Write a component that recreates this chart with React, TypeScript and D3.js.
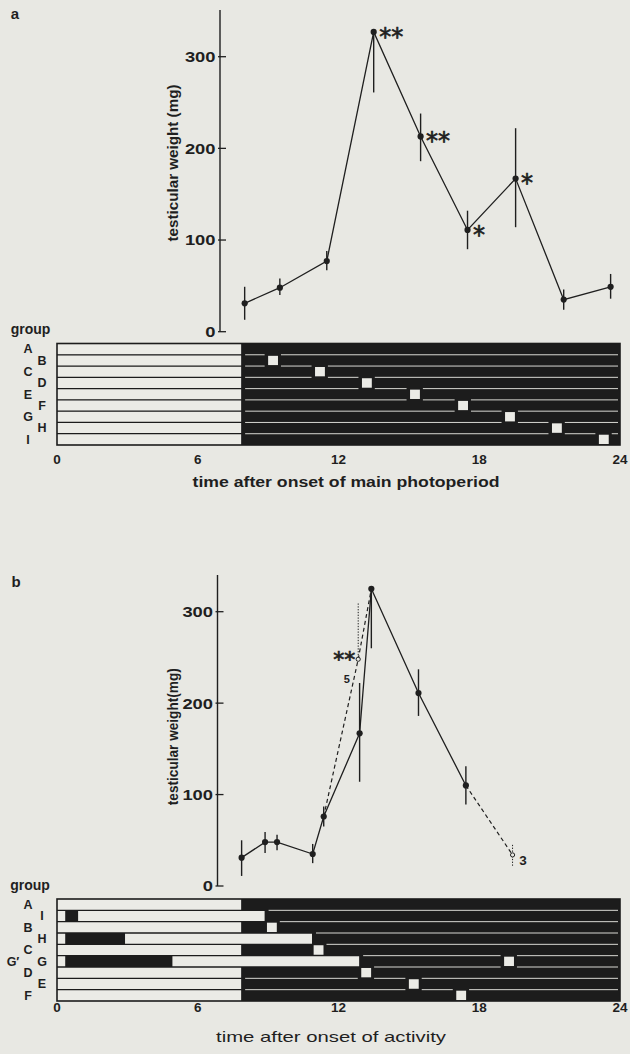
import React from 'react';
import * as d3 from 'd3';

// ---------- shared ----------
const HOUR_TICKS = [0, 6, 12, 18, 24];
const WEIGHT_TICKS = [0, 100, 200, 300];
const PULSE_LEN = 0.42;

// ---------- panel a : testicular weight vs time after onset of main photoperiod ----------
const A_HOURS = [8.0, 9.5, 11.5, 13.5, 15.5, 17.5, 19.55, 21.6, 23.6];
const A_MEAN = [31, 48, 77, 327, 213, 111, 167, 35, 49];
const A_SE_HI = [49, 58, 88, 327, 238, 132, 222, 46, 63];
const A_SE_LO = [13, 40, 67, 261, 186, 90, 114, 24, 36];
const A_STARS = ['', '', '', '**', '**', '*', '*', '', ''];

const A_GROUPS = ['A', 'B', 'C', 'D', 'E', 'F', 'G', 'H', 'I'];
const A_LIGHT = [
  [[0, 7.85]], [[0, 7.85]], [[0, 7.85]], [[0, 7.85]], [[0, 7.85]],
  [[0, 7.85]], [[0, 7.85]], [[0, 7.85]], [[0, 7.85]],
];
const A_PULSE = [null, 9.0, 11.0, 13.0, 15.05, 17.1, 19.1, 21.1, 23.1];

// ---------- panel b : testicular weight vs time after onset of activity ----------
const B_HOURS = [7.87, 8.87, 9.38, 10.9, 11.37, 12.9, 13.4, 15.41, 17.43];
const B_MEAN = [31, 48, 48, 35, 76, 167, 325, 211, 110];
const B_SE_HI = [50, 59, 56, 46, 87, 222, 325, 237, 131];
const B_SE_LO = [11, 36, 39, 25, 65, 114, 260, 186, 89];

const B_OPEN_HOURS = [12.84, 19.42];
const B_OPEN_MEAN = [248, 34];
const B_OPEN_SE_HI = [309, 45];
const B_OPEN_SE_LO = [248, 21];
const B_OPEN_N = ['5', '3'];
const B_OPEN_STARS = ['**', ''];
// dashed links: from solid point index, through open point, to solid point index (or none)
const B_DASH_FROM = [4, 8];
const B_DASH_TO = [6, null];

const B_GROUPS = ['A', 'I', 'B', 'H', 'C', 'G', 'D', 'E', 'F'];
const B_LIGHT = [
  [[0, 7.85]],
  [[0, 0.35], [0.9, 8.85]],
  [[0, 7.85]],
  [[0, 0.35], [2.9, 10.87]],
  [[0, 7.85]],
  [[0, 0.35], [4.92, 12.88]],
  [[0, 7.85]],
  [[0, 7.85]],
  [[0, 7.85]],
];
const B_PULSE = [null, null, 8.95, null, 10.94, 19.06, 12.97, 15.0, 17.02];

// ---------- style ----------
const BG = '#e8e8e3';
const INK = '#1f1f1f';
const DARK = '#1c1c1c';
const LIGHT = '#ebebe6';
const FONT = "'Liberation Sans', Arial, Helvetica, sans-serif";

const x = d3.scaleLinear().domain([0, 24]).range([57, 620]);

function Stars({ cx, cy, text, anchor, fs = 24 }: { cx: number; cy: number; text: string; anchor: string; fs?: number }) {
  if (!text) return null;
  return (
    <text
      x={cx}
      y={cy + 0.53 * fs}
      fontSize={fs}
      fontFamily="'DejaVu Sans', sans-serif"
      fill={INK}
      stroke={INK}
      strokeWidth={0.7}
      textAnchor={anchor}
    >
      {text}
    </text>
  );
}

function YAxis({ y, axisX, top, title, titleY, titleLen }: any) {
  return (
    <g>
      <line x1={axisX} x2={axisX} y1={top} y2={y(0)} stroke={INK} strokeWidth={1.4} />
      {WEIGHT_TICKS.map((t) => (
        <g key={t}>
          <line x1={axisX - 2} x2={axisX + 6} y1={y(t)} y2={y(t)} stroke={INK} strokeWidth={1.3} />
          <text
            x={axisX - 4.5}
            y={y(t) + 5.4}
            fontSize={15}
            fontWeight="bold"
            textAnchor="end"
            fill={INK}
            textLength={String(t).length * 10.2}
            lengthAdjust="spacingAndGlyphs"
          >
            {t}
          </text>
        </g>
      ))}
      <text
        transform={`translate(178,${titleY}) rotate(-90)`}
        fontSize={14}
        fontWeight="bold"
        textAnchor="middle"
        fill={INK}
        textLength={titleLen}
        lengthAdjust="spacingAndGlyphs"
      >
        {title}
      </text>
    </g>
  );
}

function BarPanel({ groups, light, pulses, top, bottom, tickY, extra }: any) {
  const band = d3.scaleBand<string>().domain(groups).range([top, bottom]);
  const bw = band.bandwidth();
  const n = groups.length;
  const darkStart = (r: number) => Math.max(...light[r].map((s: number[]) => s[1]));
  const whiteLines: any[] = [];
  for (let r = 0; r < n - 1; r++) {
    const yy = band(groups[r + 1])!;
    const s = x(Math.max(darkStart(r), darkStart(r + 1))) + 4;
    const e = x(24) - 2;
    const gaps = [pulses[r], pulses[r + 1]]
      .filter((p: any) => p != null)
      .map((p: number) => [x(p) - 3.5, x(p + PULSE_LEN) + 3])
      .sort((a: number[], b: number[]) => a[0] - b[0]);
    let cur = s;
    gaps.forEach((g: number[]) => {
      if (g[1] <= cur) return;
      if (g[0] > cur) whiteLines.push([cur, g[0], yy]);
      cur = Math.max(cur, g[1]);
    });
    if (cur < e) whiteLines.push([cur, e, yy]);
  }
  return (
    <g>
      <rect x={x(0)} y={top} width={x(24) - x(0)} height={bottom - top} fill={DARK} />
      {groups.map((g: string, r: number) => (
        <g key={g}>
          {light[r].map((s: number[], i: number) => (
            <rect key={i} x={x(s[0])} y={band(g)} width={x(s[1]) - x(s[0])} height={bw} fill={LIGHT} />
          ))}
          {pulses[r] != null && (
            <rect
              x={x(pulses[r])}
              y={band(g)! + 0.9}
              width={x(pulses[r] + PULSE_LEN) - x(pulses[r])}
              height={bw - 1.8}
              fill={LIGHT}
            />
          )}
          <text
            x={r % 2 === 0 ? 28 : 42}
            y={band(g)! + bw / 2 + 4.3}
            fontSize={12.5}
            fontWeight="bold"
            textAnchor="middle"
            fill={INK}
          >
            {g}
          </text>
        </g>
      ))}
      {groups.slice(1).map((g: string) => (
        <line key={g} x1={x(0)} x2={x(24)} y1={band(g)} y2={band(g)} stroke={DARK} strokeWidth={1.3} />
      ))}
      {whiteLines.map((l, i) => (
        <line key={i} x1={l[0]} x2={l[1]} y1={l[2]} y2={l[2]} stroke="#d8d8d3" strokeWidth={1} />
      ))}
      <rect x={x(0)} y={top} width={x(24) - x(0)} height={bottom - top} fill="none" stroke={DARK} strokeWidth={1.6} />
      {extra}
      {HOUR_TICKS.map((t) => (
        <text key={t} x={x(t)} y={tickY + 4.8} fontSize={13.5} fontWeight="bold" textAnchor="middle" fill={INK}>
          {t}
        </text>
      ))}
    </g>
  );
}

export default function App() {
  const yA = d3.scaleLinear().domain([0, 300]).range([331.7, 56.7]);
  const yB = d3.scaleLinear().domain([0, 300]).range([886, 611.7]);

  const lineA = d3.line<number>().x((d, i) => x(A_HOURS[i])).y((d) => yA(d));
  const lineB = d3.line<number>().x((d, i) => x(B_HOURS[i])).y((d) => yB(d));
  const pt = d3.line<[number, number]>().x((d) => x(d[0])).y((d) => yB(d[1]));

  const dashPaths = B_OPEN_HOURS.map((h, i) => {
    const pts: [number, number][] = [[B_HOURS[B_DASH_FROM[i]], B_MEAN[B_DASH_FROM[i]]], [h, B_OPEN_MEAN[i]]];
    const to = B_DASH_TO[i];
    if (to != null) pts.push([B_HOURS[to], B_MEAN[to]]);
    return pt(pts)!;
  });

  return (
    <svg
      width={630}
      height={1054}
      viewBox="0 0 630 1054"
      style={{ position: 'absolute', left: 0, top: 0, background: BG }}
      fontFamily={FONT}
    >
      <rect width={630} height={1054} fill={BG} />

      {/* ---------------- panel a ---------------- */}
      <text x={15} y={19} fontSize={15} fontWeight="bold" textAnchor="middle" fill={INK}>a</text>
      <YAxis y={yA} axisX={220} top={10} title="testicular weight (mg)" titleY={163} titleLen={157} />
      <path d={lineA(A_MEAN)!} fill="none" stroke={INK} strokeWidth={1.3} />
      {A_HOURS.map((h, i) => (
        <g key={i}>
          <line x1={x(h)} x2={x(h)} y1={yA(A_SE_HI[i])} y2={yA(A_SE_LO[i])} stroke={INK} strokeWidth={1.4} />
          <circle cx={x(h)} cy={yA(A_MEAN[i])} r={3.1} fill={INK} />
          <Stars cx={x(h) + 5.5} cy={yA(A_MEAN[i])} text={A_STARS[i]} anchor="start" />
        </g>
      ))}
      <text x={30.5} y={334} fontSize={14} fontWeight="bold" textAnchor="middle" fill={INK}>group</text>
      <BarPanel groups={A_GROUPS} light={A_LIGHT} pulses={A_PULSE} top={343.5} bottom={445} tickY={459} />
      <text x={346} y={486.5} fontSize={14} fontWeight="bold" textAnchor="middle" fill={INK} textLength={307} lengthAdjust="spacingAndGlyphs">
        time after onset of main photoperiod
      </text>

      {/* ---------------- panel b ---------------- */}
      <text x={16} y={587} fontSize={15} fontWeight="bold" textAnchor="middle" fill={INK}>b</text>
      <YAxis y={yB} axisX={217.5} top={575} title="testicular weight(mg)" titleY={736.7} titleLen={137} />
      {dashPaths.map((d, i) => (
        <path key={i} d={d} fill="none" stroke={INK} strokeWidth={1.2} strokeDasharray="4 3" />
      ))}
      <path d={lineB(B_MEAN)!} fill="none" stroke={INK} strokeWidth={1.3} />
      {B_HOURS.map((h, i) => (
        <g key={i}>
          <line x1={x(h)} x2={x(h)} y1={yB(B_SE_HI[i])} y2={yB(B_SE_LO[i])} stroke={INK} strokeWidth={1.4} />
          <circle cx={x(h)} cy={yB(B_MEAN[i])} r={3.1} fill={INK} />
        </g>
      ))}
      {B_OPEN_HOURS.map((h, i) => (
        <g key={i}>
          <line x1={x(h)} x2={x(h)} y1={yB(B_OPEN_SE_HI[i])} y2={yB(B_OPEN_SE_LO[i])} stroke={INK} strokeWidth={1} strokeDasharray="1.3 1.5" />
          <circle cx={x(h)} cy={yB(B_OPEN_MEAN[i])} r={2.1} fill={BG} stroke={INK} strokeWidth={1} />
          <Stars cx={x(h) - 3} cy={yB(B_OPEN_MEAN[i]) - 3.5} text={B_OPEN_STARS[i]} anchor="end" fs={22} />
          <text
            x={i === 0 ? x(h) - 11.5 : x(h) + 10.5}
            y={i === 0 ? yB(B_OPEN_MEAN[i]) + 23.5 : yB(B_OPEN_MEAN[i]) + 10}
            fontSize={i === 0 ? 11 : 13.5}
            fontWeight="bold"
            textAnchor="middle"
            fill={INK}
          >
            {B_OPEN_N[i]}
          </text>
        </g>
      ))}
      <text x={30} y={890} fontSize={14} fontWeight="bold" textAnchor="middle" fill={INK}>group</text>
      <BarPanel
        groups={B_GROUPS}
        light={B_LIGHT}
        pulses={B_PULSE}
        top={899}
        bottom={1001}
        tickY={1006.7}
        extra={<text x={13} y={966} fontSize={12.5} fontWeight="bold" textAnchor="middle" fill={INK}>G′</text>}
      />
      <text x={331} y={1041.5} fontSize={14.5} textAnchor="middle" fill={INK} textLength={230} lengthAdjust="spacingAndGlyphs">
        time after onset of activity
      </text>
    </svg>
  );
}
